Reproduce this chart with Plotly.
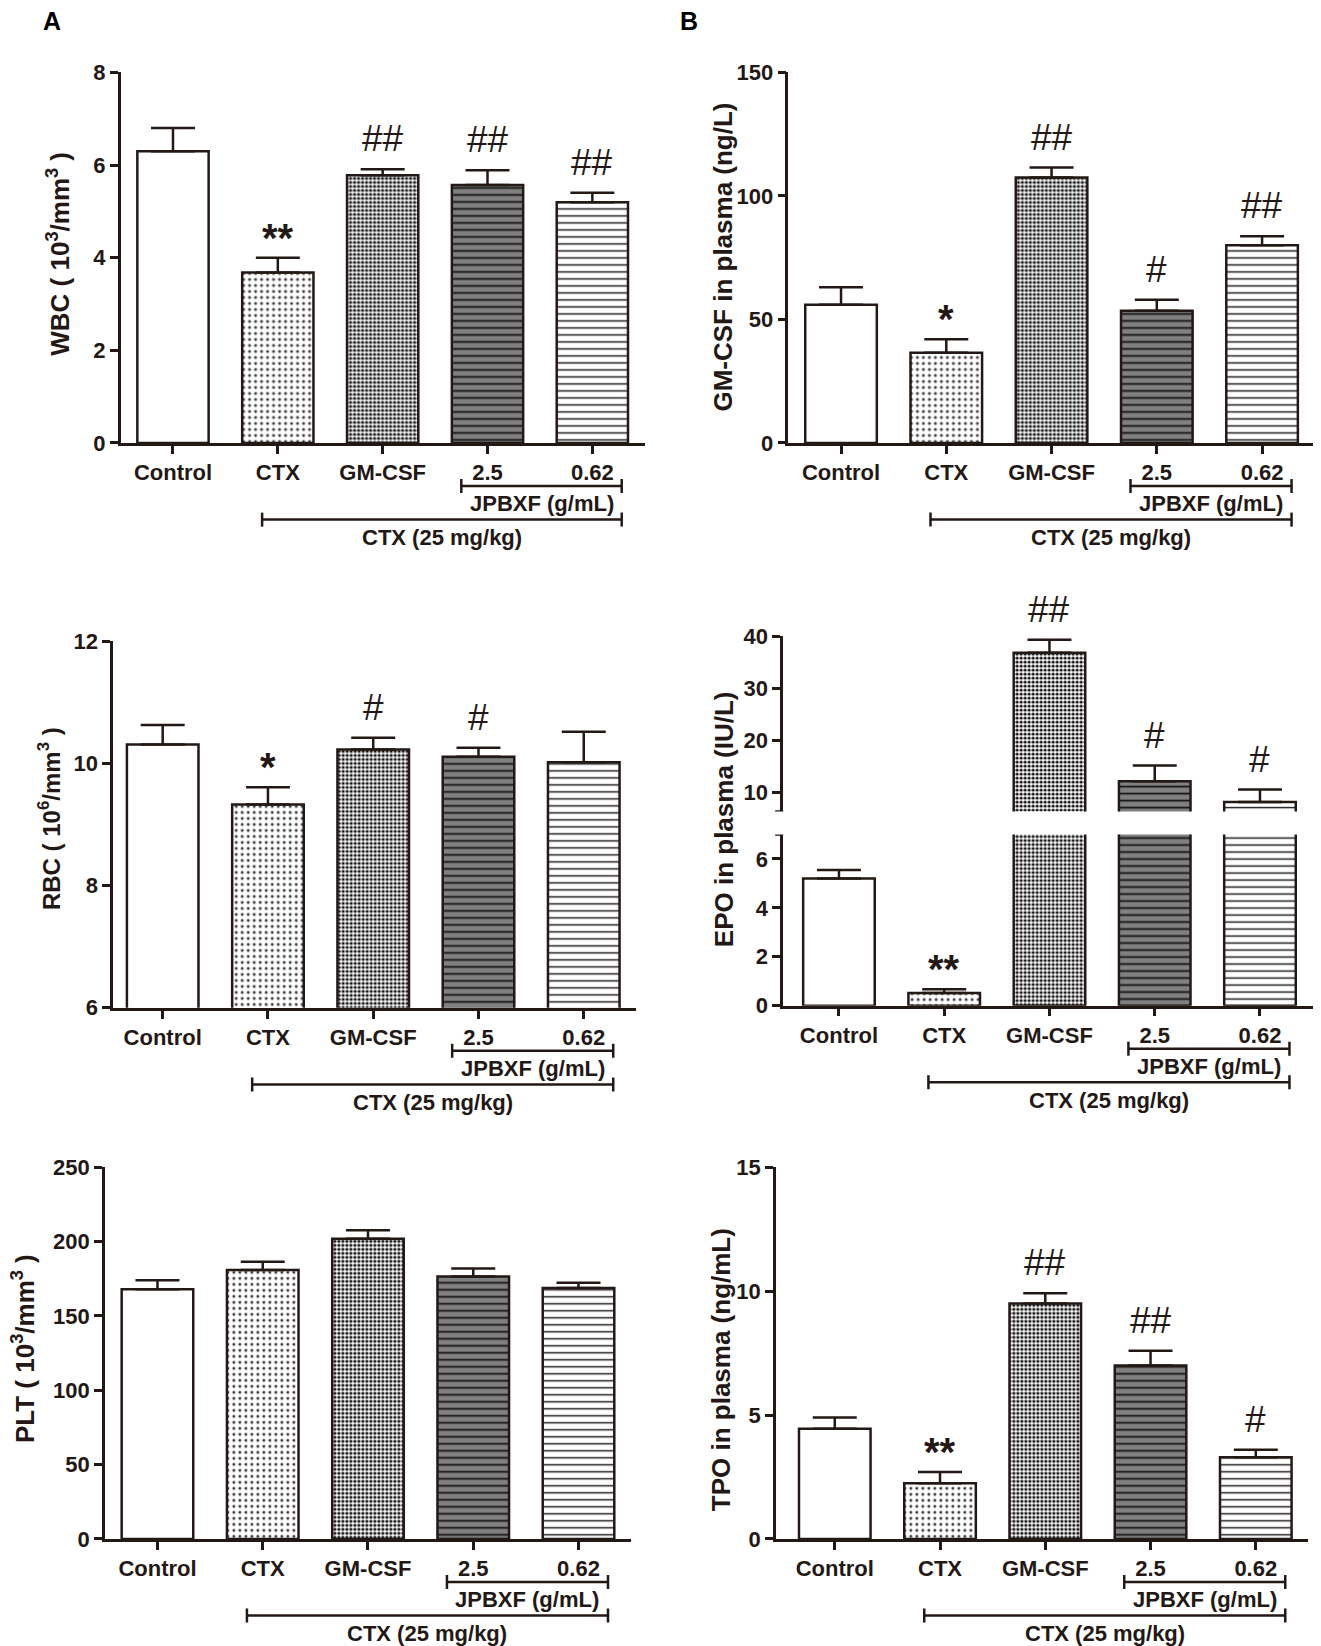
import plotly.graph_objects as go

# ---------------- data ----------------
groups = ["Control", "CTX", "GM-CSF", "2.5", "0.62"]

wbc = [6.3, 3.68, 5.78, 5.57, 5.2]
wbc_err = [0.5, 0.32, 0.13, 0.32, 0.2]
wbc_sig = ["", "**", "##", "##", "##"]

gmcsf = [56.0, 36.5, 107.5, 53.5, 80.0]
gmcsf_err = [7.0, 5.5, 4.0, 4.5, 3.7]
gmcsf_sig = ["", "*", "##", "#", "##"]

rbc = [10.31, 9.33, 10.23, 10.11, 10.02]
rbc_err = [0.32, 0.28, 0.19, 0.15, 0.5]
rbc_sig = ["", "*", "#", "#", ""]

epo = [5.2, 0.52, 36.8, 12.2, 8.2]
epo_err = [0.35, 0.15, 2.5, 3.0, 2.4]
epo_sig = ["", "**", "##", "#", "#"]

plt_v = [168.0, 181.0, 202.0, 176.5, 168.8]
plt_err = [6.0, 5.5, 5.6, 5.5, 3.5]

tpo = [4.45, 2.25, 9.5, 7.0, 3.3]
tpo_err = [0.45, 0.45, 0.42, 0.6, 0.3]
tpo_sig = ["", "**", "##", "##", "#"]

# ---------------- styles ----------------
W, H = 1321, 1646
SW, SH = 1260.0, 1568.0   # sketch frame used for layout measurements
OFF = 8                   # page body margin compensation
INK = "#231815"
FONT = "Liberation Sans"

bar_styles = [
    dict(color="white", pattern=dict(shape="")),
    dict(color="white", pattern=dict(shape=".", fgcolor="#3a3a3a", bgcolor="white",
                                     size=6, solidity=0.2, fillmode="replace")),
    dict(color="white", pattern=dict(shape=".", fgcolor="#111111", bgcolor="white",
                                     size=4, solidity=0.5, fillmode="replace")),
    dict(color="#808080", pattern=dict(shape="-", fgcolor="#111111", bgcolor="#808080",
                                       size=7, solidity=0.25, fillmode="replace")),
    dict(color="white", pattern=dict(shape="-", fgcolor="#111111", bgcolor="white",
                                     size=7, solidity=0.2, fillmode="replace")),
]


def px(dx):
    return (dx * W / SW - OFF) / W


def py(dy):
    return 1 - (dy * H / SH - OFF) / H


def xd(l, r):
    return [px(l), px(r)]


def yd(top, bottom):
    return [py(bottom), py(top)]


fig = go.Figure()
annotations = []
shapes = []


def ref(idx):
    return ("x", "y") if idx == 1 else (f"x{idx}", f"y{idx}")


def axis_common():
    return dict(showline=True, linecolor=INK, linewidth=2.5, ticks="outside",
                tickcolor=INK, tickwidth=2.5, ticklen=8, showgrid=False,
                zeroline=False, automargin=False,
                tickfont=dict(family=FONT, size=22, color=INK, weight="bold"))


def add_bars(idx, vals, errs):
    xa, ya = ref(idx)
    for i, g in enumerate(groups):
        st = bar_styles[i]
        fig.add_trace(go.Bar(
            x=[i], y=[vals[i]], width=0.68,
            marker=dict(color=st["color"], pattern=st["pattern"],
                        line=dict(color=INK, width=2.5)),
            error_y=dict(type="data", symmetric=False, array=[errs[i]], arrayminus=[0],
                         color=INK, thickness=2.5, width=22),
            xaxis=xa, yaxis=ya, showlegend=False, hoverinfo="skip", name=g))


def add_sig(idx, vals, errs, sig):
    xa, ya = ref(idx)
    for i, s in enumerate(sig):
        if s:
            star = "*" in s
            annotations.append(dict(
                x=i, y=vals[i] + errs[i], xref=xa, yref=ya, text=s, showarrow=False,
                xanchor="center", yanchor="bottom", yshift=-4 if star else 8,
                font=dict(family=FONT, size=40 if star else 37, color=INK,
                          weight="bold" if star else "normal")))


def add_brackets(idx, bottom_px):
    xa, _ = ref(idx)
    specs = [(2.75, 4.28, 41, 58, "JPBXF (g/mL)"), (0.85, 4.28, 73, 90, "CTX (25 mg/kg)")]
    for x0, x1, ly, ty, label in specs:
        yl = py(bottom_px + ly)
        cap = 7 / H
        shapes.append(dict(type="line", xref=xa, yref="paper", x0=x0, x1=x1, y0=yl, y1=yl,
                           line=dict(color=INK, width=2.5)))
        for xx in (x0, x1):
            shapes.append(dict(type="line", xref=xa, yref="paper", x0=xx, x1=xx,
                               y0=yl - cap, y1=yl + cap, line=dict(color=INK, width=2.5)))
        annotations.append(dict(x=(x0 + x1) / 2, y=py(bottom_px + ty), xref=xa,
                                yref="paper", text=label, showarrow=False,
                                xanchor="center", yanchor="middle",
                                font=dict(family=FONT, size=22, color=INK, weight="bold")))


def ytitle(x, y, text, size=26):
    annotations.append(dict(x=px(x), y=py(y), xref="paper", yref="paper", text=text,
                            textangle=-90, showarrow=False, xanchor="center", yanchor="middle",
                            font=dict(family=FONT, size=size, color=INK, weight="bold")))


def set_axes(idx, xdom, xr, ydom, yr, tickvals, showx=True):
    sfx = "" if idx == 1 else str(idx)
    xa = axis_common()
    xa.update(domain=xdom, range=xr, anchor="y" + sfx, tickmode="array",
              tickvals=list(range(len(groups))), ticktext=groups)
    if not showx:
        xa.update(visible=False)
    ya = axis_common()
    ya.update(domain=ydom, range=yr, anchor="x" + sfx, tickmode="array", tickvals=tickvals,
              ticktext=[str(v) for v in tickvals])
    fig.layout["xaxis" + sfx] = xa
    fig.layout["yaxis" + sfx] = ya


def break_cap(idx, yval):
    xa, ya = ref(idx)
    shapes.append(dict(type="line", xref=xa + " domain", yref=ya, xsizemode="pixel",
                       xanchor=0, x0=-8, x1=0, y0=yval, y1=yval,
                       line=dict(color=INK, width=2.5)))


# A1 WBC
set_axes(1, xd(115, 615), [-0.5, 4.5], yd(69, 422), [0, 8], [0, 2, 4, 6, 8])
add_bars(1, wbc, wbc_err)
add_sig(1, wbc, wbc_err, wbc_sig)
add_brackets(1, 422)
ytitle(55, 242, "WBC ( 10<sup>3</sup>/mm<sup>3</sup> )")

# B1 GM-CSF
set_axes(2, xd(752, 1254), [-0.5, 4.5], yd(69, 422), [0, 150], [0, 50, 100, 150])
add_bars(2, gmcsf, gmcsf_err)
add_sig(2, gmcsf, gmcsf_err, gmcsf_sig)
add_brackets(2, 422)
ytitle(690, 245, "GM-CSF in plasma (ng/L)")

# A2 RBC
set_axes(3, xd(108, 607), [-0.47, 4.5], yd(611, 960), [6, 12], [6, 8, 10, 12])
add_bars(3, rbc, rbc_err)
add_sig(3, rbc, rbc_err, rbc_sig)
add_brackets(3, 960)
ytitle(47, 780, "RBC ( 10<sup>6</sup>/mm<sup>3</sup> )", size=24)

# B2 EPO lower part
set_axes(4, xd(747, 1252), [-0.53, 4.5], yd(795, 958), [0, 7], [0, 2, 4, 6])
add_bars(4, epo, epo_err)
add_sig(4, epo, epo_err, ["", "**", "", "", ""])
add_brackets(4, 958)
break_cap(4, 7)
# B2 EPO upper part
set_axes(5, xd(747, 1252), [-0.53, 4.5], yd(606, 773), [6.4, 40], [10, 20, 30, 40],
         showx=False)
add_bars(5, epo, epo_err)
add_sig(5, epo, epo_err, ["", "", "##", "#", "#"])
break_cap(5, 6.4)
ytitle(690, 780, "EPO in plasma (IU/L)")

# A3 PLT
set_axes(6, xd(100, 602), [-0.5, 4.5], yd(1112, 1466), [0, 250], [0, 50, 100, 150, 200, 250])
add_bars(6, plt_v, plt_err)
add_brackets(6, 1466)
ytitle(23, 1285, "PLT ( 10<sup>3</sup>/mm<sup>3</sup> )")

# B3 TPO
set_axes(7, xd(740, 1248), [-0.56, 4.5], yd(1112, 1466), [0, 15], [0, 5, 10, 15])
add_bars(7, tpo, tpo_err)
add_sig(7, tpo, tpo_err, tpo_sig)
add_brackets(7, 1466)
ytitle(688, 1305, "TPO in plasma (ng/mL)")

# panel letters
for lx, lt in [(50, "A"), (657, "B")]:
    annotations.append(dict(x=px(lx), y=py(20), xref="paper", yref="paper", text=lt,
                            showarrow=False, xanchor="center", yanchor="middle",
                            font=dict(family=FONT, size=25, color="black", weight="bold")))

fig.update_layout(width=W, height=H, margin=dict(l=0, r=0, t=0, b=0),
                  paper_bgcolor="white", plot_bgcolor="white", barmode="overlay",
                  annotations=annotations, shapes=shapes, showlegend=False)

fig.write_html("out.html")
